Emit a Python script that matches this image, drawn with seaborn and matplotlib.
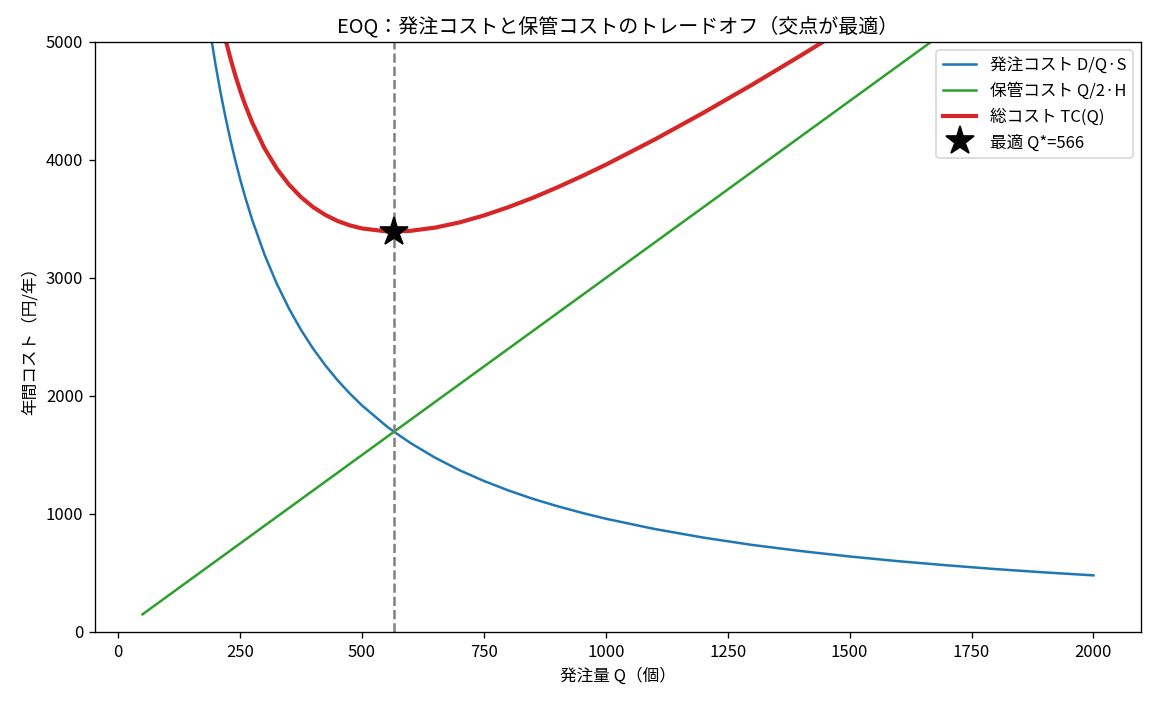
import matplotlib
matplotlib.use("Agg")
import matplotlib.pyplot as plt
import seaborn as sns
import pandas as pd

plt.rcParams['font.family'] = ['Noto Sans CJK JP', 'DejaVu Sans']

# values (annual cost in yen per year)
order_qty = [50, 100, 150, 170, 180, 190, 200, 210, 220, 230, 240, 250, 260, 275,
             300, 325, 350, 375, 400, 425, 450, 475, 500, 550, 566, 600, 650, 700,
             750, 800, 850, 900, 950, 1000, 1100, 1200, 1300, 1400, 1500, 1600,
             1700, 1800, 1900, 2000]
ordering_cost = [19200, 9600, 6400, 5647, 5333, 5053, 4800, 4571, 4364, 4174, 4000,
                 3840, 3692, 3491, 3200, 2954, 2743, 2560, 2400, 2259, 2133, 2021,
                 1920, 1745, 1696, 1600, 1477, 1371, 1280, 1200, 1129, 1067, 1011,
                 960, 873, 800, 738, 686, 640, 600, 565, 533, 505, 480]
holding_cost = [150, 300, 450, 510, 540, 570, 600, 630, 660, 690, 720, 750, 780, 825,
                900, 975, 1050, 1125, 1200, 1275, 1350, 1425, 1500, 1650, 1698, 1800,
                1950, 2100, 2250, 2400, 2550, 2700, 2850, 3000, 3300, 3600, 3900,
                4200, 4500, 4800, 5100, 5400, 5700, 6000]
total_cost = [19350, 9900, 6850, 6157, 5873, 5623, 5400, 5201, 5024, 4864, 4720,
              4590, 4472, 4316, 4100, 3929, 3793, 3685, 3600, 3534, 3483, 3446,
              3420, 3395, 3394, 3400, 3427, 3471, 3530, 3600, 3679, 3767, 3861,
              3960, 4173, 4400, 4638, 4886, 5140, 5400, 5665, 5933, 6205, 6480]
q_opt = 566
tc_opt = 3394

df = pd.DataFrame({'Q': order_qty, 'order': ordering_cost,
                   'hold': holding_cost, 'total': total_cost})

fig, ax = plt.subplots(figsize=(1153 / 120, 701 / 120), dpi=120)
fig.subplots_adjust(left=95 / 1153, right=1141 / 1153, top=1 - 42 / 701,
                    bottom=1 - 632 / 701)

sns.lineplot(data=df, x='Q', y='order', ax=ax, color='tab:blue', lw=1.5,
             label='発注コスト D/Q·S')
sns.lineplot(data=df, x='Q', y='hold', ax=ax, color='tab:green', lw=1.5,
             label='保管コスト Q/2·H')
sns.lineplot(data=df, x='Q', y='total', ax=ax, color='tab:red', lw=2.5,
             label='総コスト TC(Q)')
ax.axvline(q_opt, color='gray', ls='--', lw=1.5)
ax.plot([q_opt], [tc_opt], marker='*', color='black', markersize=18, ls='none',
        label=f'最適 Q*={q_opt}', zorder=5)

ax.set_ylim(0, 5000)
ax.set_title('EOQ：発注コストと保管コストのトレードオフ（交点が最適）', fontsize=12)
ax.set_xlabel('発注量 Q（個）')
ax.set_ylabel('年間コスト（円/年）')
ax.legend(loc='upper right')

fig.savefig('out.png', dpi=120)
